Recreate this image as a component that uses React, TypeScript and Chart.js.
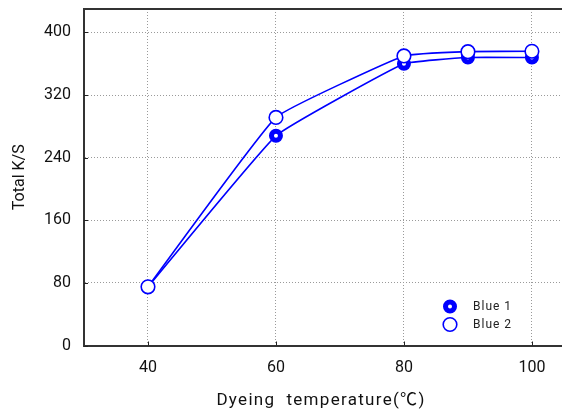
import React, { useEffect, useRef } from "react";
import { Chart, registerables } from "chart.js";

Chart.register(...registerables);

const temperatures = [40, 60, 80, 90, 100];
const blue1 = [75, 268, 360, 368, 368];
const blue2 = [75, 291.5, 370, 375.5, 376];
const xTickValues = [40, 60, 80, 100];
const yTickValues = [0, 80, 160, 240, 320, 400];
const seriesNames = ["Blue 1", "Blue 2"];
const xTitle = "Dyeing  temperature(℃)";
const yTitle = "Total K/S";

const BLUE = "#0000ff";
const FONT = "Roboto, 'Noto Sans CJK KR', sans-serif";

const framePlugin = {
  id: "frame",
  afterDraw(chart: any) {
    const { ctx, chartArea, scales } = chart;
    const xs = scales.x;
    const ys = scales.y;
    ctx.save();
    ctx.strokeStyle = "#333333";
    ctx.lineWidth = 2;
    ctx.beginPath();
    ctx.moveTo(chartArea.left - 1, chartArea.top);
    ctx.lineTo(chartArea.right + 2, chartArea.top);
    ctx.stroke();
    // inner tick marks
    ctx.lineWidth = 1;
    ctx.strokeStyle = "#222222";
    xTickValues.forEach((v) => {
      const px = Math.round(xs.getPixelForValue(v)) + 0.5;
      ctx.beginPath();
      ctx.moveTo(px, chartArea.bottom);
      ctx.lineTo(px, chartArea.bottom - 4);
      ctx.stroke();
    });
    yTickValues.forEach((v) => {
      const py = Math.round(ys.getPixelForValue(v)) + 0.5;
      ctx.beginPath();
      ctx.moveTo(chartArea.left, py);
      ctx.lineTo(chartArea.left + 4, py);
      ctx.stroke();
    });
    // x axis title
    ctx.fillStyle = "#111111";
    ctx.font = `17px ${FONT}`;
    (ctx as any).letterSpacing = "1.3px";
    ctx.textAlign = "center";
    ctx.textBaseline = "middle";
    ctx.fillText(xTitle, (chartArea.left + chartArea.right) / 2 - 2, xs.bottom - 13);
    // legend
    const lx = chartArea.right - 112;
    const ly = chartArea.bottom - 39;
    const gap = 18;
    ctx.strokeStyle = BLUE;
    ctx.fillStyle = "#ffffff";
    ctx.lineWidth = 5;
    ctx.beginPath();
    ctx.arc(lx, ly, 4.5, 0, Math.PI * 2);
    ctx.fill();
    ctx.stroke();
    ctx.lineWidth = 1.6;
    ctx.beginPath();
    ctx.arc(lx, ly + gap, 6.8, 0, Math.PI * 2);
    ctx.fill();
    ctx.stroke();
    ctx.fillStyle = "#222222";
    ctx.font = `12px ${FONT}`;
    (ctx as any).letterSpacing = "1px";
    ctx.textAlign = "left";
    ctx.textBaseline = "middle";
    ctx.fillText(seriesNames[0], lx + 23, ly);
    ctx.fillText(seriesNames[1], lx + 23, ly + gap);
    ctx.restore();
  },
};

export default function App() {
  const canvasRef = useRef<HTMLCanvasElement | null>(null);

  useEffect(() => {
    if (!canvasRef.current) return;
    const chart = new Chart(canvasRef.current, {
      type: "line",
      data: {
        datasets: [
          {
            label: seriesNames[0],
            data: temperatures.map((t, i) => ({ x: t, y: blue1[i] })),
            borderColor: BLUE,
            borderWidth: 1.6,
            pointRadius: 4.5,
            pointBorderWidth: 5,
            pointBackgroundColor: "#ffffff",
            pointBorderColor: BLUE,
            tension: 0.1,
            order: 2,
          },
          {
            label: seriesNames[1],
            data: temperatures.map((t, i) => ({ x: t, y: blue2[i] })),
            borderColor: BLUE,
            borderWidth: 1.6,
            pointRadius: 6.8,
            pointBorderWidth: 1.6,
            pointBackgroundColor: "#ffffff",
            pointBorderColor: BLUE,
            tension: 0.1,
            order: 1,
          },
        ],
      },
      options: {
        animation: false,
        responsive: false,
        events: [],
        layout: { autoPadding: false, padding: { top: 9, right: 0, left: 0, bottom: 0 } },
        plugins: {
          legend: { display: false },
          tooltip: { enabled: false },
        },
        scales: {
          x: {
            type: "linear",
            min: 30,
            max: 104.7,
            afterBuildTicks: (scale: any) => {
              scale.ticks = xTickValues.map((v) => ({ value: v }));
            },
            afterFit: (scale: any) => {
              scale.height = 68.5;
              scale.paddingLeft = 0;
              scale.paddingRight = 0;
            },
            grid: {
              color: "#9a9a9a",
              lineWidth: 1,
              drawTicks: false,
            },
            border: { display: true, color: "#333333", width: 2, dash: [1, 2] },
            ticks: {
              padding: 13,
              color: "#111111",
              font: { family: FONT, size: 16 },
              maxRotation: 0,
            },
            title: { display: false },
          },
          y: {
            type: "linear",
            min: 0,
            max: 430,
            afterBuildTicks: (scale: any) => {
              scale.ticks = yTickValues.map((v) => ({ value: v }));
            },
            afterFit: (scale: any) => {
              scale.width = 84;
              scale.paddingTop = 0;
              scale.paddingBottom = 0;
            },
            grid: {
              color: (c: any) => (c.tick && c.tick.value === 0 ? "rgba(0,0,0,0)" : "#9a9a9a"),
              lineWidth: 1,
              drawTicks: false,
            },
            border: { display: true, color: "#333333", width: 2, dash: [1, 2] },
            ticks: {
              padding: 13,
              color: "#111111",
              font: { family: FONT, size: 16 },
            },
            title: {
              display: true,
              text: yTitle,
              color: "#111111",
              font: { family: FONT, size: 16 },
              padding: { top: 10, bottom: 0 },
            },
          },
        },
      },
      plugins: [framePlugin],
    });
    return () => chart.destroy();
  }, []);

  return (
    <div style={{ position: "fixed", left: 0, top: 0, width: 562, height: 414, background: "#fff" }}>
      <canvas ref={canvasRef} width={562} height={414} style={{ width: 562, height: 414 }} />
    </div>
  );
}
